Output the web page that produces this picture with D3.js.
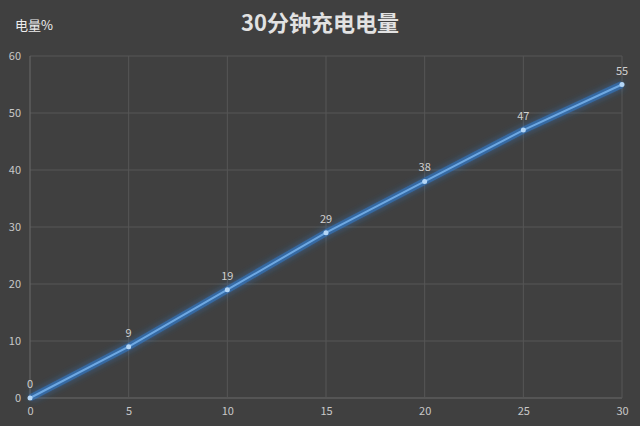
<!DOCTYPE html>
<html>
<head>
<meta charset="utf-8">
<script src="https://cdn.jsdelivr.net/npm/d3@7"></script>
<style>
  html, body { margin: 0; padding: 0; background: #404040; }
  svg { display: block; }
</style>
</head>
<body>
<svg id="chart" width="640" height="426"></svg>
<script>
// values
const minutes = [0, 5, 10, 15, 20, 25, 30];
const charge  = [0, 9, 19, 29, 38, 47, 55];
const xTicks  = [0, 5, 10, 15, 20, 25, 30];
const yTicks  = [0, 10, 20, 30, 40, 50, 60];

const W = 640, H = 426;
const margin = { top: 56, right: 18, bottom: 28, left: 30 };

const svg = d3.select('#chart');
const font = '"Noto Sans CJK SC", "Noto Sans", sans-serif';

const x = d3.scaleLinear().domain([0, 30]).range([margin.left, W - margin.right]);
const y = d3.scaleLinear().domain([0, 60]).range([H - margin.bottom, margin.top]);

// glow for the line
const defs = svg.append('defs');
const glow = defs.append('filter').attr('id', 'glow')
    .attr('x', '-20%').attr('y', '-20%').attr('width', '140%').attr('height', '140%');
glow.append('feGaussianBlur').attr('stdDeviation', 3.5).attr('result', 'blur');
const merge = glow.append('feMerge');
merge.append('feMergeNode').attr('in', 'blur');
merge.append('feMergeNode').attr('in', 'SourceGraphic');

// grid
const grid = svg.append('g');
grid.selectAll('line.h')
    .data(yTicks)
    .enter()
    .append('line')
    .attr('x1', margin.left).attr('x2', W - margin.right)
    .attr('y1', d => y(d)).attr('y2', d => y(d))
    .attr('stroke', d => d === 0 ? '#6a6a6a' : '#565656')
    .attr('stroke-width', 1);
grid.selectAll('line.v')
    .data(xTicks)
    .enter()
    .append('line')
    .attr('y1', y(0)).attr('y2', y(60))
    .attr('x1', d => x(d)).attr('x2', d => x(d))
    .attr('stroke', d => d === 0 ? '#6a6a6a' : '#565656')
    .attr('stroke-width', 1);

// axes
const yAxis = svg.append('g')
    .attr('transform', `translate(${margin.left},0)`)
    .call(d3.axisLeft(y).tickValues(yTicks).tickSize(0).tickPadding(9));
const xAxis = svg.append('g')
    .attr('transform', `translate(0,${y(0)})`)
    .call(d3.axisBottom(x).tickValues(xTicks).tickSize(0).tickPadding(9));
[xAxis, yAxis].forEach(a => {
    a.select('.domain').remove();
    a.selectAll('text')
        .attr('fill', '#c8c8c8')
        .attr('font-family', font)
        .attr('font-size', 11);
});

// line
const pts = minutes.map((m, i) => ({ m: m, v: charge[i] }));
const line = d3.line().x(d => x(d.m)).y(d => y(d.v));

svg.append('path')
    .datum(pts)
    .attr('d', line)
    .attr('fill', 'none')
    .attr('stroke', '#2f7fd8')
    .attr('stroke-width', 7)
    .attr('stroke-opacity', 0.5)
    .attr('filter', 'url(#glow)');
svg.append('path')
    .datum(pts)
    .attr('d', line)
    .attr('fill', 'none')
    .attr('stroke', '#6ea8e2')
    .attr('stroke-width', 2);

svg.selectAll('circle.pt')
    .data(pts)
    .enter()
    .append('circle')
    .attr('cx', d => x(d.m))
    .attr('cy', d => y(d.v))
    .attr('r', 2.5)
    .attr('fill', '#b4d6f6');

svg.selectAll('text.lbl')
    .data(pts)
    .enter()
    .append('text')
    .attr('x', d => x(d.m))
    .attr('y', d => y(d.v) - 10)
    .attr('text-anchor', 'middle')
    .attr('fill', '#d0d0d0')
    .attr('font-family', font)
    .attr('font-size', 11)
    .text(d => d.v);

// title and axis name
svg.append('text')
    .attr('x', 320).attr('y', 31)
    .attr('text-anchor', 'middle')
    .attr('fill', '#e2e2e2')
    .attr('font-family', font)
    .attr('font-weight', 'bold')
    .attr('font-size', 22)
    .text('30分钟充电电量');

svg.append('text')
    .attr('x', 15).attr('y', 30)
    .attr('fill', '#eeeeee')
    .attr('font-family', font)
    .attr('font-size', 13)
    .text('电量%');
</script>
</body>
</html>
